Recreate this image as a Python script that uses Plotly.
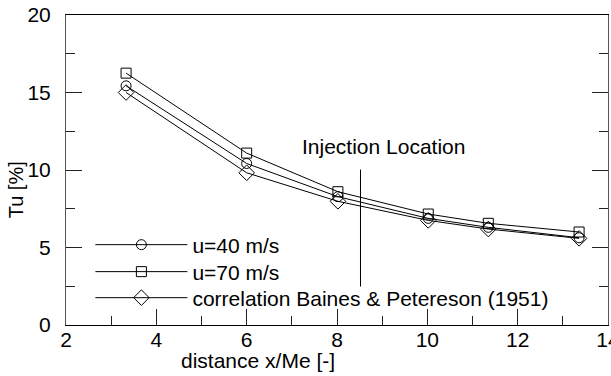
import plotly.graph_objects as go

x_pos = [3.33, 6.0, 8.02, 10.02, 11.35, 13.36]
tu_40 = [15.43, 10.42, 8.28, 6.88, 6.30, 5.63]
tu_70 = [16.25, 11.09, 8.60, 7.16, 6.56, 6.00]
tu_corr = [15.00, 9.82, 7.98, 6.75, 6.19, 5.59]

names = ["u=40 m/s", "u=70 m/s", "correlation Baines &amp; Petereson (1951)"]
symbols = ["circle-open", "square-open", "diamond-open"]
sizes = [10, 10, 12]
legends = ["legend", "legend2", "legend3"]

injection_x = 8.52
injection_y = [2.48, 10.03]

FONT = "Liberation Sans, Arial, Helvetica, sans-serif"
FS = 21

fig = go.Figure()
for ys, nm, sym, sz, lg in zip([tu_40, tu_70, tu_corr], names, symbols, sizes, legends):
    fig.add_trace(go.Scatter(
        x=x_pos, y=ys, name=nm, mode="lines+markers", legend=lg,
        line=dict(color="black", width=1),
        marker=dict(symbol=sym, size=sz, color="black", line=dict(width=1, color="black")),
    ))

fig.add_shape(type="line", x0=injection_x, x1=injection_x, y0=injection_y[0], y1=injection_y[1],
              xref="x", yref="y", line=dict(color="black", width=1))
fig.add_annotation(x=9.03, y=11.52, xref="x", yref="y", text="Injection Location",
                   showarrow=False, xanchor="center", yanchor="middle",
                   font=dict(size=FS, color="black", family=FONT))

# axis titles (placed as in the reference, off-centre)
fig.add_annotation(x=0.354, y=-0.113, xref="paper", yref="paper", text="distance x/Me [-]",
                   showarrow=False, xanchor="center", yanchor="middle",
                   font=dict(size=FS, color="black", family=FONT))
fig.add_annotation(x=-0.092, y=0.435, xref="paper", yref="paper", text="Tu [%]", textangle=-90,
                   showarrow=False, xanchor="center", yanchor="middle",
                   font=dict(size=20, color="black", family=FONT))

tick_common = dict(
    ticks="inside", ticklen=16, tickcolor="#222", tickwidth=1,
    showgrid=False, zeroline=False, ticklabeloverflow="allow", automargin=False,
    tickfont=dict(size=FS, color="black", family=FONT),
    minor=dict(ticks="inside", ticklen=9, tickcolor="#222", tickwidth=1, showgrid=False),
)

fig.update_xaxes(range=[2, 14], tickvals=[2, 4, 6, 8, 10, 12, 14], minor_dtick=1,
                 showline=True, linecolor="black", linewidth=1, mirror=True,
                 ticklabelstandoff=-4, **tick_common)
fig.update_yaxes(range=[0, 20], tickvals=[0, 5, 10, 15, 20], minor_dtick=2.5,
                 showline=True, linecolor="#555", linewidth=1, mirror="ticks",
                 ticklabelstandoff=10, **tick_common)

leg_common = dict(x=0.045, xanchor="left", yanchor="middle", bgcolor="rgba(0,0,0,0)",
                  font=dict(size=FS, color="black", family=FONT), itemwidth=92, borderwidth=0)
fig.update_layout(
    width=611, height=376,
    margin=dict(l=66, r=3, t=15, b=51, autoexpand=False),
    plot_bgcolor="white", paper_bgcolor="white",
    font=dict(family=FONT, color="black"),
    legend=dict(y=0.258, **leg_common),
    legend2=dict(y=0.171, **leg_common),
    legend3=dict(y=0.087, **leg_common),
    showlegend=True,
)

fig.write_html("out.html")
